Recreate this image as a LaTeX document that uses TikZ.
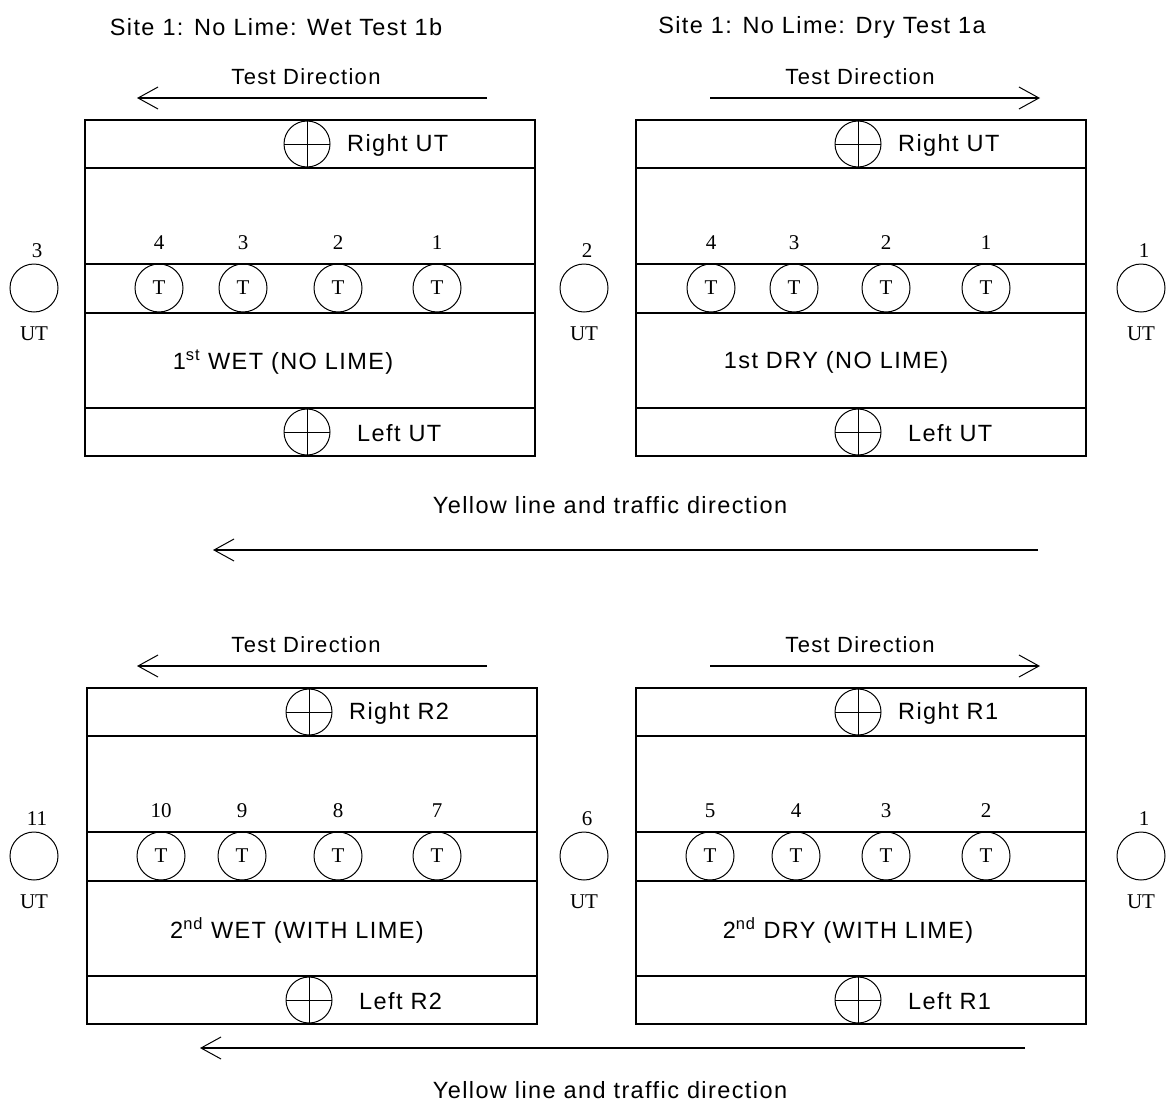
\documentclass[tikz,border=0pt]{standalone}
\usepackage{fontspec}
\setmainfont{Liberation Sans}[LetterSpace=6]
\newfontfamily\numfont{Liberation Serif}
\usetikzlibrary{arrows.meta}
\tikzset{
  frame/.style={line width=1.5pt},
  probe/.style={circle,draw,line width=1pt,minimum size=48pt,inner sep=0pt,font=\numfont\fontsize{21}{21}\selectfont},
  xprobe/.style={circle,draw,line width=1pt,minimum size=46pt,inner sep=0pt,
    path picture={\draw[line width=1pt] (path picture bounding box.north) -- (path picture bounding box.south)
      (path picture bounding box.west) -- (path picture bounding box.east);}},
  lbl/.style={inner sep=0pt,font=\fontsize{23.5}{25}\selectfont},
  dlbl/.style={inner sep=0pt,font=\fontsize{22}{24}\selectfont},
  num/.style={inner sep=0pt,font=\numfont\fontsize{21}{21}\selectfont},
  dirarrow/.style={line width=1.2pt,-{Straight Barb[length=20pt,width=22pt,line width=1pt]}}
}
\newcommand\roadpanel[8]{%
 \begin{scope}[shift={(#2,#3)}]
  \draw[frame] (0,0) rectangle (450,336);
  \foreach \yy in {48,144,193,288} \draw[frame] (0,\yy) -- (450,\yy);
  \node[xprobe] (#1R) at (222,24) {};
  \node[lbl,anchor=west] (#1Rl) at (262,25) {#5};
  \node[xprobe] (#1L) at (222,312) {};
  \node[lbl,anchor=west] (#1Ll) at (272,313) {#6};
  \node[lbl] (#1C) at (#8,242) {#7};
  \foreach \xx/\nn [count=\i] in {#4} {
    \node[probe] (#1T\i) at (\xx,168) {T};
    \node[num] (#1N\i) at (\xx,123) {\nn};
  }
 \end{scope}}
\begin{document}
\begin{tikzpicture}[x=1pt,y=-1pt]
\useasboundingbox (0,0) rectangle (1166,1108);
% titles
\node[lbl] (t1) at (276,27) {Site 1: No Lime: Wet Test 1b};
\node[lbl] (t2) at (822,27) {Site 1: No Lime: Dry Test 1a};
% panels
\roadpanel{a}{85}{120}{74/4,158/3,253/2,352/1}{Right UT}{Left UT}{1\textsuperscript{st} WET (NO LIME)}{198}
\roadpanel{b}{636}{120}{75/4,158/3,250/2,350/1}{Right UT}{Left UT}{1st DRY (NO LIME)}{200}
\roadpanel{c}{87}{688}{74/10,155/9,251/8,350/7}{Right R2}{Left R2}{2\textsuperscript{nd} WET (WITH LIME)}{210}
\roadpanel{d}{636}{688}{74/5,160/4,250/3,350/2}{Right R1}{Left R1}{2\textsuperscript{nd} DRY (WITH LIME)}{212}
% UT circles
\foreach \nm/\xx/\yy/\nn in {u1/34/288/3,u2/584/288/2,u3/1141/288/1,u4/34/856/11,u5/584/856/6,u6/1141/856/1} {
  \node[probe] (\nm) at (\xx,\yy) {};
  \node[num,anchor=south] (\nm n) at ([xshift=3pt,yshift=6pt]\nm.north) {\nn};
  \node[num,anchor=north] (\nm l) at ([yshift=-14pt]\nm.south) {UT};
}
% test directions
\node[dlbl] (td1) at (306,77) {Test Direction};
\node[dlbl] (td2) at (860,77) {Test Direction};
\node[dlbl] (td3) at (306,645) {Test Direction};
\node[dlbl] (td4) at (860,645) {Test Direction};
\coordinate (a1s) at (487,98); \coordinate (a1e) at (137,98);
\coordinate (a2s) at (710,98); \coordinate (a2e) at (1040,98);
\coordinate (a3s) at (487,666); \coordinate (a3e) at (137,666);
\coordinate (a4s) at (710,666); \coordinate (a4e) at (1040,666);
\draw[dirarrow] (a1s) -- (a1e);
\draw[dirarrow] (a2s) -- (a2e);
\draw[dirarrow] (a3s) -- (a3e);
\draw[dirarrow] (a4s) -- (a4e);
% traffic
\node[lbl] (y1) at (610,505) {Yellow line and traffic direction};
\node[lbl] (y2) at (610,1090) {Yellow line and traffic direction};
\coordinate (y1s) at (1038,550); \coordinate (y1e) at (213,550);
\coordinate (y2s) at (1025,1048); \coordinate (y2e) at (200,1048);
\draw[dirarrow] (y1s) -- (y1e);
\draw[dirarrow] (y2s) -- (y2e);
\end{tikzpicture}
\end{document}
